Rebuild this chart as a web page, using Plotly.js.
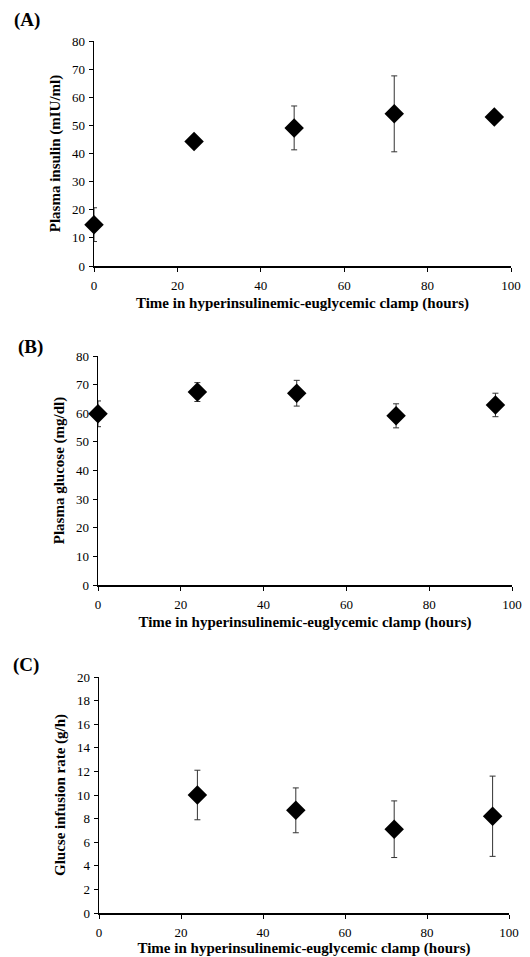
<!DOCTYPE html>
<html><head><meta charset="utf-8">
<script src="https://cdn.plot.ly/plotly-3.0.1.min.js"></script>
<style>html,body{margin:0;padding:0;background:#fff}#chart{width:530px;height:957px}</style>
</head><body><div id="chart"></div>
<script>
const hours = [0, 24, 48, 72, 96];
const insulin = [14.7, 44.3, 49.1, 54.1, 53.0];
const insulinErr = [6.0, 0.8, 7.8, 13.5, 1.0];
const glucose = [59.8, 67.4, 67.0, 59.1, 62.9];
const glucoseErr = [4.5, 3.3, 4.5, 4.2, 4.1];
const girHours = [24, 48, 72, 96];
const gir = [10.0, 8.7, 7.1, 8.2];
const girErr = [2.1, 1.9, 2.4, 3.4];
const xTitle = 'Time in hyperinsulinemic-euglycemic clamp (hours)';
const yTitles = ['Plasma insulin (mIU/ml)', 'Plasma glucose (mg/dl)', 'Glucse infusion rate (g/h)'];
const panelLabels = ['(A)', '(B)', '(C)'];

const W = 530, H = 957;
const font = 'Liberation Serif, Times New Roman, serif';
function mk(x, y, e, xa, ya) {
  return {x: x, y: y, type: 'scatter', mode: 'markers', xaxis: xa, yaxis: ya, cliponaxis: false,
    marker: {symbol: 'diamond', size: 15, color: '#000'},
    error_y: {type: 'data', array: e, visible: true, color: '#333', thickness: 1, width: 3},
    showlegend: false, hoverinfo: 'skip'};
}
const data = [mk(hours, insulin, insulinErr, 'x', 'y'),
              mk(hours, glucose, glucoseErr, 'x2', 'y2'),
              mk(girHours, gir, girErr, 'x3', 'y3')];
// pixel boxes [left, right, top, bottom]
const boxes = [[94, 511, 41, 266], [98, 512, 356, 585], [99, 509, 677, 913]];
const yRanges = [[0, 80, 10], [0, 80, 10], [0, 20, 2]];
const layout = {width: W, height: H, margin: {l: 0, r: 0, t: 0, b: 0},
  paper_bgcolor: '#fff', plot_bgcolor: '#fff', font: {family: font, color: '#000'},
  annotations: []};
const labelPos = [[27, 20], [30, 347], [26, 665]];
boxes.forEach((b, i) => {
  const sx = i === 0 ? '' : String(i + 1);
  const axBase = {showline: true, linecolor: '#000', linewidth: 1.5, ticks: 'outside', ticklen: 4,
    tickwidth: 1, tickcolor: '#000', showgrid: false, zeroline: false,
    tickfont: {family: font, size: 13, color: '#000'}, fixedrange: true};
  layout['xaxis' + sx] = Object.assign({}, axBase, {
    domain: [b[0] / W, b[1] / W], anchor: 'y' + sx, range: [0, 100], dtick: 20, tick0: 0,
    ticklabelstandoff: 3,
    title: {text: xTitle, font: {family: font, size: 15, color: '#000', weight: 'bold'}, standoff: 5}});
  layout['yaxis' + sx] = Object.assign({}, axBase, {
    domain: [1 - b[3] / H, 1 - b[2] / H], anchor: 'x' + sx,
    range: [yRanges[i][0], yRanges[i][1]], dtick: yRanges[i][2], tick0: 0,
    ticklabelstandoff: 1,
    title: {text: yTitles[i], font: {family: font, size: 15, color: '#000', weight: 'bold'}, standoff: 7}});
  layout.annotations.push({text: '<b>' + panelLabels[i] + '</b>', xref: 'paper', yref: 'paper',
    x: labelPos[i][0] / W, y: 1 - labelPos[i][1] / H, showarrow: false,
    font: {family: font, size: 19, color: '#000'}, xanchor: 'center', yanchor: 'middle'});
});
Plotly.newPlot('chart', data, layout, {displayModeBar: false, staticPlot: true});
</script></body></html>
